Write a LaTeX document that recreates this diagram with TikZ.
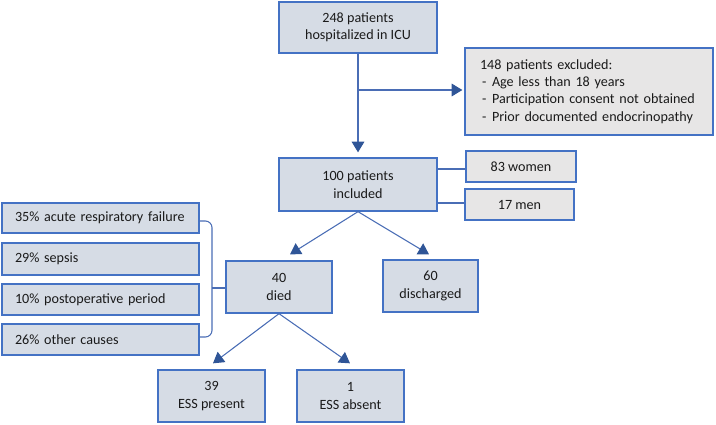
\documentclass[tikz,border=0pt]{standalone}
\usepackage{fontspec}
\setmainfont{Carlito}
\usetikzlibrary{arrows.meta,calc}
\definecolor{bordc}{HTML}{4472C4}
\definecolor{linec}{HTML}{4A6DB5}
\definecolor{tipc}{HTML}{2F5597}
\definecolor{bluef}{HTML}{D6DCE5}
\definecolor{grayf}{HTML}{E7E6E6}
\definecolor{txt}{HTML}{1A1A1A}
\begin{document}
\begin{tikzpicture}[x=0.75pt,y=-0.75pt,
  box/.style={draw=bordc, line width=1pt, fill=bluef, text=txt,
    font=\fontsize{10.6}{13}\selectfont, align=center, inner sep=0pt},
  gbox/.style={box, fill=grayf},
  causebox/.style={box, align=left, inner xsep=9.75pt, text width=128.25pt, minimum width=147.75pt},
  conn/.style={draw=linec, line width=0.8pt},
  arr/.style={conn, -{Triangle[width=9.5pt,length=8pt,color=tipc]}}]
\useasboundingbox (0,0) rectangle (716,424);

\node[box, minimum width=118.5pt, minimum height=38.25pt] (top) at (358,27.5) {248 patients\\hospitalized in ICU};
\node[gbox, align=left, inner xsep=11.25pt, text width=163.5pt, minimum width=186pt, minimum height=65.25pt] (excl) at (589,91.5)
  {148 patients excluded:\\
   \makebox[9pt][l]{\hspace{1.5pt}-}Age less than 18 years\\
   \makebox[9pt][l]{\hspace{1.5pt}-}Participation consent not obtained\\
   \makebox[9pt][l]{\hspace{1.5pt}-}Prior documented endocrinopathy};
\node[box, minimum width=118.5pt, minimum height=39.75pt] (inc) at (358,184.5) {100 patients\\included};
\node[gbox, minimum width=82.5pt, minimum height=23.25pt] (women) at (521,166.5) {83 women};
\node[gbox, minimum width=81.75pt, minimum height=23.25pt] (men) at (519.5,204.5) {17 men};
\node[box, minimum width=79.5pt, minimum height=39pt] (died) at (279,287) {40\\died};
\node[box, minimum width=71.25pt, minimum height=39pt] (disch) at (430.5,286) {60\\discharged};
\node[causebox, minimum height=22.5pt] (c1) at (100.5,218) {35\% acute respiratory failure};
\node[causebox, minimum height=24pt] (c2) at (100.5,259) {29\% sepsis};
\node[causebox, minimum height=23.25pt] (c3) at (100.5,299.5) {10\% postoperative period};
\node[causebox, minimum height=23.25pt] (c4) at (100.5,339.5) {26\% other causes};
\node[box, minimum width=80.25pt, minimum height=39pt] (ess1) at (211.5,396) {39\\ESS present};
\node[box, minimum width=80.25pt, minimum height=39pt] (ess2) at (350.5,396) {1\\ESS absent};

% connectors
\coordinate (bp) at (358,90);
\draw[arr] (top.south) -- ($(inc.north)+(0,-5)$);
\draw[arr] (bp) -- ($(excl.west |- bp)+(-2,0)$);
\draw[conn] (inc.east |- 0,169) -- (women.west |- 0,169);
\draw[conn] (inc.east |- 0,203) -- (men.west |- 0,203);
\draw[arr] (inc.south) -- ($(died.north)+(11,-6)$);
\draw[arr] (inc.south) -- ($(disch.north)+(-1.5,-5)$);
\draw[arr] (died.south) -- ($(ess1.north)+(1.5,-6)$);
\draw[arr] (died.south) -- ($(ess2.north)+(-0.5,-6)$);

% bracket
\coordinate (br) at (212,288);
\draw[conn, rounded corners=5pt] (c1.east |- 0,221) -- (br |- 0,221) -- (br |- 0,337) -- (c4.east |- 0,337);
\draw[conn] (br) -- (died.west |- br);
\end{tikzpicture}
\end{document}
